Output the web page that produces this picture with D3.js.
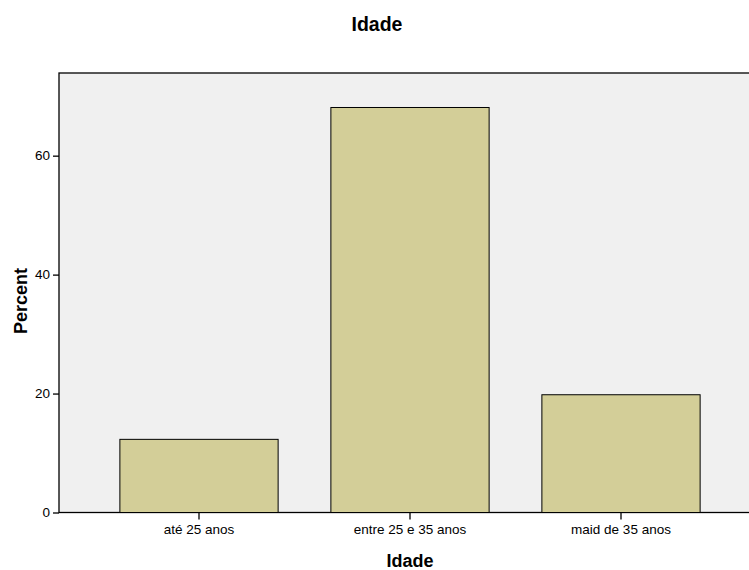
<!DOCTYPE html>
<html><head><meta charset="utf-8">
<script src="https://cdn.jsdelivr.net/npm/d3@7"></script>
<style>body{margin:0;background:#fff}svg{display:block}text{font-family:Arial,"Liberation Sans",sans-serif}</style>
</head><body><div id="chart"></div>
<script>
const categories = ["até 25 anos", "entre 25 e 35 anos", "maid de 35 anos"];
const percents = [12.3, 68.1, 19.8];
const yTicks = [0, 20, 40, 60];
const chartTitle = "Idade";
const xTitle = "Idade";
const yTitle = "Percent";

const W = 749, H = 570;
const m = {left: 59, top: 73, right: 761, bottom: 512.5};
const svg = d3.select("#chart").append("svg").attr("width", W).attr("height", H);

const x = d3.scaleBand().domain(categories).range([93.5, 726.5]).paddingInner(0.25).paddingOuter(0.125);
const y = d3.scaleLinear().domain([0, 73.9]).range([m.bottom, m.top]);

svg.append("rect").attr("x", m.left).attr("y", m.top).attr("width", m.right - m.left).attr("height", m.bottom - m.top)
  .attr("fill", "#f0f0f0").attr("stroke", "#000").attr("stroke-width", 1.3);

svg.selectAll("rect.bar").data(categories).join("rect").attr("class", "bar")
  .attr("x", d => x(d)).attr("width", x.bandwidth())
  .attr("y", (d, i) => y(percents[i])).attr("height", (d, i) => y(0) - y(percents[i]))
  .attr("fill", "#d3ce98").attr("stroke", "#000").attr("stroke-width", 1);

const ya = svg.append("g").attr("transform", `translate(${m.left},0)`)
  .call(d3.axisLeft(y).tickValues(yTicks).tickSize(6).tickPadding(3).tickFormat(d3.format("d")));
ya.select(".domain").remove();
ya.selectAll("line").attr("stroke", "#000").attr("stroke-width", 1.3);
ya.selectAll("text").attr("font-size", 13.5).attr("fill", "#000");

const xa = svg.append("g").attr("transform", `translate(0,${m.bottom})`)
  .call(d3.axisBottom(x).tickSize(7).tickPadding(5));
xa.select(".domain").remove();
xa.selectAll("line").attr("stroke", "#000").attr("stroke-width", 1.3);
xa.selectAll("text").attr("font-size", 13.5).attr("fill", "#000");

svg.append("text").attr("x", 377).attr("y", 31).attr("text-anchor", "middle")
  .attr("font-size", 19.5).attr("font-weight", "bold").text(chartTitle);
svg.append("text").attr("x", 410).attr("y", 566.5).attr("text-anchor", "middle")
  .attr("font-size", 18).attr("font-weight", "bold").text(xTitle);
svg.append("text").attr("transform", "translate(27,301) rotate(-90)").attr("text-anchor", "middle")
  .attr("font-size", 18).attr("font-weight", "bold").text(yTitle);
</script></body></html>
